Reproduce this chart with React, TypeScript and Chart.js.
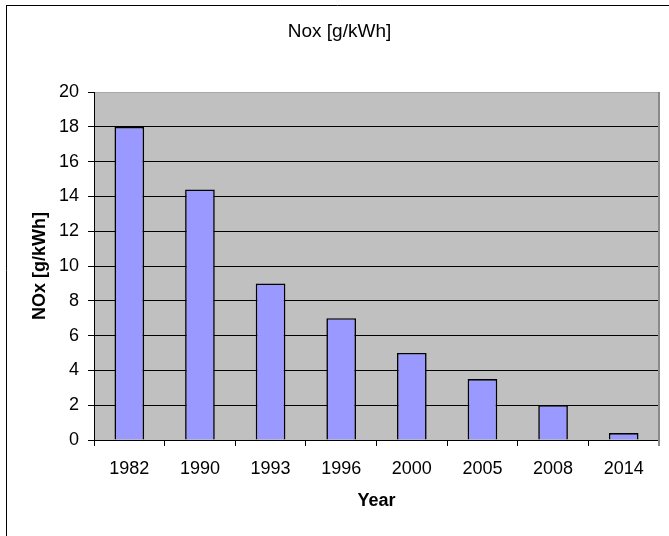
import React, { useEffect, useRef } from "react";
import { Chart, registerables } from "chart.js";

Chart.register(...registerables);

const years = ["1982", "1990", "1993", "1996", "2000", "2005", "2008", "2014"];
const noxValues = [18, 14.4, 9, 7, 5, 3.5, 2, 0.4];
const chartTitle = "Nox [g/kWh]";
const yTitle = "NOx [g/kWh]";
const xTitle = "Year";

const FONT = "'Liberation Sans', Arial, sans-serif";

const framePlugin = {
  id: "frame",
  afterLayout(chart: any) {
    const tb = chart.titleBlock;
    if (tb) {
      tb.left = 10;
      tb.right = chart.width;
    }
  },
  beforeDraw(chart: any) {
    const { ctx, chartArea } = chart;
    ctx.save();
    ctx.fillStyle = "#ffffff";
    ctx.fillRect(0, 0, chart.width, chart.height);
    ctx.fillStyle = "#C0C0C0";
    ctx.fillRect(chartArea.left, chartArea.top, chartArea.right - chartArea.left, chartArea.bottom - chartArea.top);
    ctx.restore();
  },
  afterDraw(chart: any) {
    const { ctx, chartArea } = chart;
    ctx.save();
    ctx.strokeStyle = "#000";
    ctx.lineWidth = 1;
    ctx.beginPath();
    ctx.moveTo(6, 5.5);
    ctx.lineTo(chart.width, 5.5);
    ctx.moveTo(6.5, 5);
    ctx.lineTo(6.5, chart.height);
    ctx.stroke();
    ctx.strokeStyle = "#8a8a8a";
    ctx.lineWidth = 2;
    ctx.beginPath();
    ctx.moveTo(chartArea.right, chartArea.top);
    ctx.lineTo(chartArea.right, chartArea.bottom + 6);
    ctx.stroke();
    ctx.restore();
  },
};

export default function App() {
  const ref = useRef<HTMLCanvasElement>(null);
  useEffect(() => {
    if (!ref.current) return;
    const chart = new Chart(ref.current, {
      type: "bar",
      data: {
        labels: years,
        datasets: [
          {
            data: noxValues,
            backgroundColor: "#9999FF",
            borderColor: "#000000",
            borderWidth: 1.6,
            categoryPercentage: 1,
            barPercentage: 0.42,
          },
        ],
      },
      options: {
        responsive: false,
        animation: false,
        layout: { padding: { left: 0, right: 10, top: 0, bottom: 0 } },
        plugins: {
          legend: { display: false },
          tooltip: { enabled: false },
          title: {
            display: true,
            text: chartTitle,
            color: "#000",
            font: { family: FONT, size: 19, weight: "normal" },
            padding: { top: 20.5, bottom: 48.7 },
          },
        },
        scales: {
          x: {
            offset: true,
            afterFit: (s: any) => {
              s.height = 96;
            },
            grid: {
              display: true,
              drawOnChartArea: false,
              drawTicks: true,
              tickLength: 6,
              offset: true,
              color: "#000",
            },
            border: { display: true, color: "#000", width: 1 },
            ticks: {
              color: "#000",
              font: { family: FONT, size: 18 },
              padding: 12,
              maxRotation: 0,
            },
            title: {
              display: true,
              text: xTitle,
              color: "#000",
              font: { family: FONT, size: 18, weight: "bold" },
              padding: { top: 0, bottom: 24 },
            },
          },
          y: {
            min: 0,
            max: 20,
            afterFit: (s: any) => {
              s.width = 94;
            },
            grid: {
              color: (c: any) => (c.tick && c.tick.value === 20 ? "#A8A8A8" : "#000"),
              tickColor: "#000",
              tickLength: 6,
              lineWidth: 1,
            },
            border: { display: true, color: "#000", width: 1 },
            ticks: {
              stepSize: 2,
              color: "#000",
              font: { family: FONT, size: 18 },
              padding: 9,
            },
            title: {
              display: true,
              text: yTitle,
              color: "#000",
              font: { family: FONT, size: 18, weight: "bold" },
              padding: { top: 29, bottom: 0 },
            },
          },
        },
      },
      plugins: [framePlugin],
    });
    return () => chart.destroy();
  }, []);
  return (
    <div style={{ position: "fixed", left: 0, top: 0, width: 669, height: 536, background: "#fff" }}>
      <canvas ref={ref} width={669} height={536} style={{ display: "block" }} />
    </div>
  );
}
